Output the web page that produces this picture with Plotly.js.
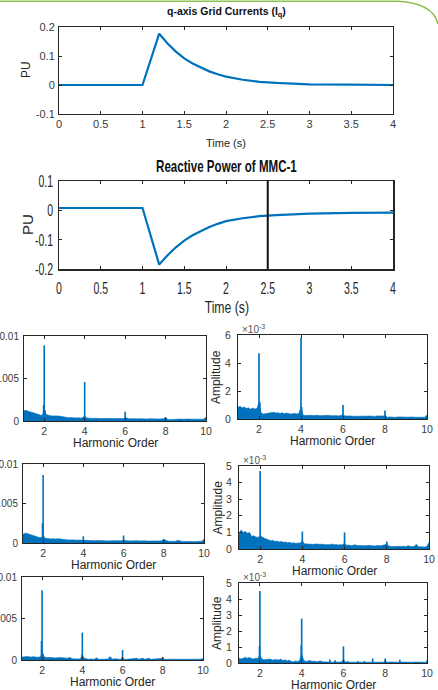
<!DOCTYPE html>
<html><head><meta charset="utf-8">
<script src="https://cdn.plot.ly/plotly-3.0.1.min.js"></script>
<style>html,body{margin:0;padding:0;background:#fff;}#chart{width:438px;height:690px;}</style>
</head><body><div id="chart"></div>
<script>
// ---------------- DATA ----------------
// Top: q-axis grid current (PU) vs time (s)
const tIq = [0, 0.5, 1.0, 1.2, 1.25, 1.3, 1.4, 1.5, 1.6, 1.7, 1.8, 1.9, 2.0, 2.2, 2.4, 2.6, 2.8, 3.0, 3.5, 4.0];
const iq  = [0, 0, 0, 0.177, 0.158, 0.143, 0.115, 0.092, 0.074, 0.060, 0.047, 0.037, 0.029, 0.018, 0.011, 0.007, 0.004, 0.002, 0.001, 0];
// Middle: reactive power of MMC-1 (PU)
const tQ  = [0, 0.5, 1.0, 1.2, 1.25, 1.3, 1.4, 1.5, 1.6, 1.7, 1.8, 1.9, 2.0, 2.2, 2.4, 2.6, 2.8, 3.0, 3.5, 4.0];
const qMMC = [0.008, 0.008, 0.008, -0.185, -0.168, -0.153, -0.126, -0.103, -0.085, -0.070, -0.057, -0.046, -0.037, -0.027, -0.020, -0.016, -0.013, -0.011, -0.009, -0.008];
const cursorTime = 2.5;

// Harmonic spectra (amplitudes in units of 1e-3)
const orders = [1.0,1.1,1.2,1.3,1.4,1.5,1.6,1.7,1.8,1.9,
  2.0,2.1,2.2,2.3,2.4,2.5,2.6,2.7,2.8,2.9,
  3.0,3.1,3.2,3.3,3.4,3.5,3.6,3.7,3.8,3.9,
  4.0,4.1,4.2,4.3,4.4,4.5,4.6,4.7,4.8,4.9,
  5.0,5.1,5.2,5.3,5.4,5.5,5.6,5.7,5.8,5.9,
  6.0,6.1,6.2,6.3,6.4,6.5,6.6,6.7,6.8,6.9,
  7.0,7.1,7.2,7.3,7.4,7.5,7.6,7.7,7.8,7.9,
  8.0,8.1,8.2,8.3,8.4,8.5,8.6,8.7,8.8,8.9,
  9.0,9.1,9.2,9.3,9.4,9.5,9.6,9.7,9.8,9.9,10.0];

const floorA = [1.2,1.25,1.15,1.1,1.05,0.95,0.85,0.75,0.7,0.65,
  1.3,0.75,0.65,0.62,0.6,0.62,0.58,0.6,0.55,0.5,
  0.4,0.42,0.38,0.4,0.36,0.4,0.35,0.38,0.33,0.4,
  0.6,0.35,0.32,0.34,0.3,0.33,0.3,0.32,0.28,0.3,
  0.3,0.28,0.3,0.27,0.3,0.28,0.26,0.3,0.27,0.28,
  0.4,0.28,0.25,0.27,0.24,0.26,0.25,0.27,0.24,0.25,
  0.25,0.23,0.26,0.24,0.25,0.22,0.24,0.23,0.25,0.26,
  0.4,0.2,0.15,0.18,0.2,0.22,0.2,0.23,0.2,0.22,
  0.22,0.2,0.23,0.21,0.2,0.22,0.2,0.24,0.2,0.22,0.5];
const spikeXA = [1.97, 2.0, 2.04, 4.0, 6.0, 8.0];
const spikeYA = [1.9, 8.9, 1.3, 4.6, 1.1, 0.45];

const floorB = [0.85,0.9,0.8,0.85,0.75,0.8,0.7,0.78,0.72,0.75,
  1.2,0.45,0.35,0.38,0.4,0.45,0.5,0.48,0.42,0.45,
  0.4,0.45,0.38,0.42,0.4,0.35,0.38,0.4,0.36,0.4,
  0.85,0.28,0.25,0.27,0.24,0.26,0.25,0.27,0.26,0.24,
  0.25,0.27,0.23,0.26,0.24,0.25,0.28,0.24,0.22,0.25,
  0.3,0.22,0.2,0.23,0.21,0.2,0.22,0.19,0.2,0.21,
  0.2,0.22,0.19,0.21,0.2,0.18,0.22,0.2,0.19,0.21,
  0.25,0.12,0.15,0.13,0.14,0.12,0.15,0.13,0.12,0.14,
  0.13,0.15,0.12,0.14,0.13,0.12,0.15,0.13,0.14,0.12,0.3];
const spikeXB = [2.0, 2.04, 4.0, 4.03, 6.0, 8.0];
const spikeYB = [4.7, 1.2, 5.8, 0.85, 1.0, 0.6];

const floorC = [1.1,1.25,1.2,1.1,1.0,0.95,0.85,0.8,0.7,0.65,
  1.0,0.6,0.55,0.58,0.52,0.55,0.5,0.55,0.48,0.5,
  0.45,0.4,0.42,0.38,0.4,0.36,0.38,0.35,0.37,0.35,
  0.4,0.35,0.32,0.3,0.34,0.3,0.28,0.32,0.3,0.28,
  0.3,0.28,0.3,0.26,0.3,0.28,0.27,0.3,0.26,0.28,
  0.35,0.28,0.3,0.26,0.28,0.25,0.27,0.3,0.26,0.28,
  0.25,0.27,0.24,0.26,0.25,0.28,0.24,0.26,0.25,0.3,
  0.45,0.3,0.25,0.2,0.18,0.2,0.22,0.35,0.25,0.2,
  0.18,0.2,0.22,0.18,0.2,0.17,0.2,0.18,0.2,0.22,0.5];
const spikeXC = [1.97, 2.0, 4.0, 6.0, 8.0];
const spikeYC = [2.5, 8.6, 0.85, 0.95, 0.5];

const floorD = [0.9,1.15,1.0,1.05,0.95,1.0,0.75,0.8,0.72,0.7,
  0.8,0.7,0.65,0.6,0.55,0.5,0.52,0.45,0.48,0.42,
  0.45,0.4,0.42,0.38,0.4,0.35,0.38,0.33,0.36,0.35,
  0.5,0.3,0.32,0.28,0.3,0.27,0.3,0.28,0.26,0.28,
  0.28,0.25,0.27,0.26,0.3,0.25,0.27,0.24,0.26,0.25,
  0.35,0.22,0.24,0.2,0.22,0.25,0.21,0.2,0.22,0.2,
  0.2,0.22,0.19,0.2,0.18,0.2,0.21,0.19,0.2,0.25,
  0.3,0.18,0.15,0.17,0.15,0.16,0.14,0.15,0.17,0.14,
  0.2,0.15,0.14,0.16,0.28,0.14,0.15,0.13,0.12,0.15,0.4];
const spikeXD = [2.0, 4.0, 6.0, 8.0];
const spikeYD = [4.7, 1.05, 1.0, 0.45];

const floorE = [0.35,0.4,0.38,0.42,0.35,0.38,0.4,0.33,0.3,0.35,
  0.8,0.4,0.3,0.32,0.28,0.3,0.25,0.3,0.28,0.3,
  0.25,0.28,0.22,0.25,0.3,0.15,0.12,0.1,0.12,0.15,
  0.6,0.2,0.12,0.1,0.12,0.1,0.1,0.25,0.1,0.08,
  0.08,0.1,0.08,0.12,0.35,0.1,0.08,0.15,0.08,0.1,
  0.3,0.1,0.08,0.1,0.08,0.1,0.1,0.2,0.08,0.1,
  0.2,0.08,0.1,0.2,0.08,0.1,0.08,0.1,0.08,0.1,
  0.2,0.08,0.1,0.08,0.1,0.08,0.1,0.08,0.1,0.08,
  0.08,0.1,0.08,0.1,0.08,0.1,0.08,0.1,0.08,0.1,0.15];
const spikeXE = [1.97, 2.0, 2.04, 3.98, 4.0, 4.7, 5.35, 5.6, 6.0, 6.7, 7.0, 7.3, 8.0];
const spikeYE = [2.3, 8.4, 0.8, 0.7, 3.3, 0.25, 0.4, 0.2, 1.2, 0.2, 0.2, 0.25, 0.35];

const floorF = [0.3,0.25,0.3,0.35,0.3,0.35,0.28,0.25,0.3,0.28,
  0.5,0.25,0.2,0.22,0.2,0.25,0.18,0.2,0.22,0.18,
  0.25,0.15,0.2,0.12,0.18,0.1,0.08,0.12,0.1,0.15,
  0.6,0.15,0.1,0.12,0.15,0.1,0.12,0.08,0.1,0.12,
  0.08,0.06,0.05,0.06,0.05,0.05,0.06,0.05,0.05,0.06,
  0.2,0.06,0.05,0.05,0.06,0.05,0.05,0.06,0.05,0.05,
  0.05,0.06,0.05,0.05,0.06,0.05,0.05,0.06,0.05,0.05,
  0.1,0.05,0.06,0.05,0.05,0.06,0.05,0.05,0.06,0.05,
  0.05,0.06,0.05,0.05,0.06,0.05,0.05,0.06,0.05,0.05,0.05];
const spikeXF = [1.98, 2.0, 3.98, 4.0, 5.35, 5.6, 6.0, 6.2, 6.7, 7.0, 7.4, 8.0, 8.7, 10.0];
const spikeYF = [1.05, 4.5, 1.1, 2.77, 0.22, 0.17, 1.04, 0.12, 0.12, 0.13, 0.28, 0.28, 0.21, 0.17];

// Tick labels
const timeTicks = [0, 0.5, 1, 1.5, 2, 2.5, 3, 3.5, 4];
const timeTickText = ['0','0.5','1','1.5','2','2.5','3','3.5','4'];
const puTicks1 = [-0.1, 0, 0.1, 0.2];
const puTickText1 = ['-0.1','0','0.1','0.2'];
const puTicks2 = [-0.2, -0.1, 0, 0.1];
const puTickText2 = ['-0.2','-0.1','0','0.1'];
const harmTicks = [2, 4, 6, 8, 10];
const leftAmpTicks = [0, 5, 10];
const leftAmpText = ['0', '0.005', '0.01'];

// ---------------- LAYOUT ----------------
const W = 438, H = 690;
const BLUE = '#0072BD', AX = '#262626', LBL = '#3a3a3a';
const SANS = 'Liberation Sans, Arial, Helvetica, sans-serif';
const dX = (l, r) => [l / W, r / W];
const dY = (t, b) => [1 - b / H, 1 - t / H];

function axisBase(extra) {
  return Object.assign({
    showline: true, mirror: 'ticks', linecolor: AX, linewidth: 1,
    ticks: 'inside', ticklen: 3, tickwidth: 1, tickcolor: AX,
    showgrid: false, zeroline: false, automargin: false,
    tickfont: {family: SANS, size: 10.5, color: LBL}
  }, extra);
}

const layout = {
  width: W, height: H, margin: {l: 0, r: 0, t: 0, b: 0},
  paper_bgcolor: '#fff', plot_bgcolor: '#fff', showlegend: false, barmode: 'overlay',
  xaxis:  axisBase({domain: dX(59, 393), anchor: 'y', range: [0, 4], tickvals: timeTicks, ticktext: timeTickText, tickfont: {family: SANS, size: 11, color: LBL}}),
  yaxis:  axisBase({domain: dY(27, 114), anchor: 'x', range: [-0.1, 0.2], tickvals: puTicks1, ticktext: puTickText1, ticklabelstandoff: 1, tickfont: {family: SANS, size: 11, color: LBL}}),
  xaxis2: axisBase({domain: dX(59, 393), anchor: 'y2', range: [0, 4], tickvals: timeTicks, ticktext: timeTickText, linewidth: 1.5, ticklabelstandoff: 3, tickfont: {family: SANS, size: 17, color: AX}}),
  yaxis2: axisBase({domain: dY(181, 269), anchor: 'x2', range: [-0.2, 0.1], tickvals: puTicks2, ticktext: puTickText2, linewidth: 1.5, ticklabelstandoff: 1, tickfont: {family: SANS, size: 17, color: AX}}),
  annotations: [], shapes: []
};

const panels = [
  {k: 3, xd: [24, 206], yd: [336, 421], fl: floorA, sx: spikeXA, sy: spikeYA, left: true},
  {k: 4, xd: [238, 427], yd: [335, 419], fl: floorB, sx: spikeXB, sy: spikeYB, left: false, ymax: 6, ticks: [0, 2, 4, 6]},
  {k: 5, xd: [23, 204], yd: [464, 543], fl: floorC, sx: spikeXC, sy: spikeYC, left: true},
  {k: 6, xd: [239, 429], yd: [466, 549], fl: floorD, sx: spikeXD, sy: spikeYD, left: false, ymax: 5, ticks: [0, 1, 2, 3, 4, 5]},
  {k: 7, xd: [22, 203], yd: [577, 660], fl: floorE, sx: spikeXE, sy: spikeYE, left: true},
  {k: 8, xd: [239, 427], yd: [583, 663], fl: floorF, sx: spikeXF, sy: spikeYF, left: false, ymax: 5, ticks: [0, 1, 2, 3, 4, 5]}
];

const data = [
  {type: 'scatter', mode: 'lines', x: tIq, y: iq, xaxis: 'x', yaxis: 'y', line: {color: BLUE, width: 2.2}},
  {type: 'scatter', mode: 'lines', x: tQ, y: qMMC, xaxis: 'x2', yaxis: 'y2', line: {color: BLUE, width: 2.2}}
];

function ann(text, x, y, font, extra) {
  layout.annotations.push(Object.assign({text: text, xref: 'paper', yref: 'paper', x: x / W, y: 1 - y / H,
    xanchor: 'center', yanchor: 'middle', showarrow: false, font: font}, extra || {}));
}

panels.forEach(p => {
  const xa = 'xaxis' + p.k, ya = 'yaxis' + p.k;
  layout[xa] = axisBase({domain: dX(p.xd[0], p.xd[1]), anchor: 'y' + p.k, range: [1, 10], tickvals: harmTicks});
  if (p.left) {
    layout[ya] = axisBase({domain: dY(p.yd[0], p.yd[1]), anchor: 'x' + p.k, range: [0, 10], tickvals: leftAmpTicks, ticktext: leftAmpText, ticklabelstandoff: 2, tickfont: {family: SANS, size: 10, color: LBL}});
  } else {
    layout[ya] = axisBase({domain: dY(p.yd[0], p.yd[1]), anchor: 'x' + p.k, range: [0, p.ymax], tickvals: p.ticks, ticklabelstandoff: 4});
    ann('×10<sup>-3</sup>', p.xd[0] + 15, p.yd[0] - 6, {family: SANS, size: 10, color: '#555'});
    ann('Amplitude', p.xd[0] - 22, (p.yd[0] + p.yd[1]) / 2, {family: SANS, size: 12, color: AX}, {textangle: -90});
  }
  ann('Harmonic Order', (p.xd[0] + p.xd[1]) / 2, p.yd[1] + 22, {family: SANS, size: 12, color: AX});
  data.push({type: 'scatter', mode: 'lines', x: orders, y: p.fl, xaxis: 'x' + p.k, yaxis: 'y' + p.k,
    fill: 'tozeroy', fillcolor: BLUE, line: {color: BLUE, width: 0.6}});
  data.push({type: 'bar', x: p.sx, y: p.sy, xaxis: 'x' + p.k, yaxis: 'y' + p.k, width: 0.08,
    marker: {color: BLUE, line: {width: 0}}});
});

// Titles and axis labels
ann('<b>q-axis Grid Currents (I<sub>q</sub>)</b>', 226, 12, {family: SANS, size: 10.5, color: '#111'});
ann('PU', 26, 70, {family: SANS, size: 12, color: AX}, {textangle: -90});
ann('Time (s)', 226, 143, {family: SANS, size: 11, color: AX});
ann('<b>Reactive Power of MMC-1</b>', 226, 166, {family: SANS, size: 17, color: '#111'});
ann('PU', 27, 225, {family: SANS, size: 15, color: AX}, {textangle: -90});
ann('Time (s)', 227, 307, {family: SANS, size: 17, color: AX});

// Cursor line at t = 2.5 in reactive power plot
layout.shapes.push({type: 'line', xref: 'x2', yref: 'y2 domain', x0: cursorTime, x1: cursorTime, y0: 0, y1: 1,
  line: {color: '#111', width: 2}});
// Decorative green frame line at top
layout.shapes.push({type: 'path', xref: 'paper', yref: 'paper',
  path: 'M 0,' + (1 - 1.2 / H) + ' L ' + (398 / W) + ',' + (1 - 1.2 / H) + ' Q ' + (433 / W) + ',' + (1 - 3 / H) + ' ' + (438 / W) + ',' + (1 - 24 / H),
  line: {color: '#8cc152', width: 1.5}});

// The middle panel of the source uses a horizontally condensed face: compress those texts.
function condense(el, f) {
  const len = el.getComputedTextLength();
  if (len > 0) { el.setAttribute('textLength', (len * f).toFixed(2)); el.setAttribute('lengthAdjust', 'spacingAndGlyphs'); }
}
Plotly.newPlot('chart', data, layout, {staticPlot: true, displayModeBar: false}).then(gd => {
  gd.querySelectorAll('.x2tick text, .y2tick text').forEach(el => condense(el, 0.62));
  gd.querySelectorAll('.annotation-text').forEach(el => {
    const t = el.textContent;
    if (t === 'Reactive Power of MMC-1') condense(el, 0.68);
    else if (t === 'Time (s)' && el.getAttribute('style') && el.getAttribute('style').indexOf('17px') >= 0) condense(el, 0.72);
  });
});
</script></body></html>
